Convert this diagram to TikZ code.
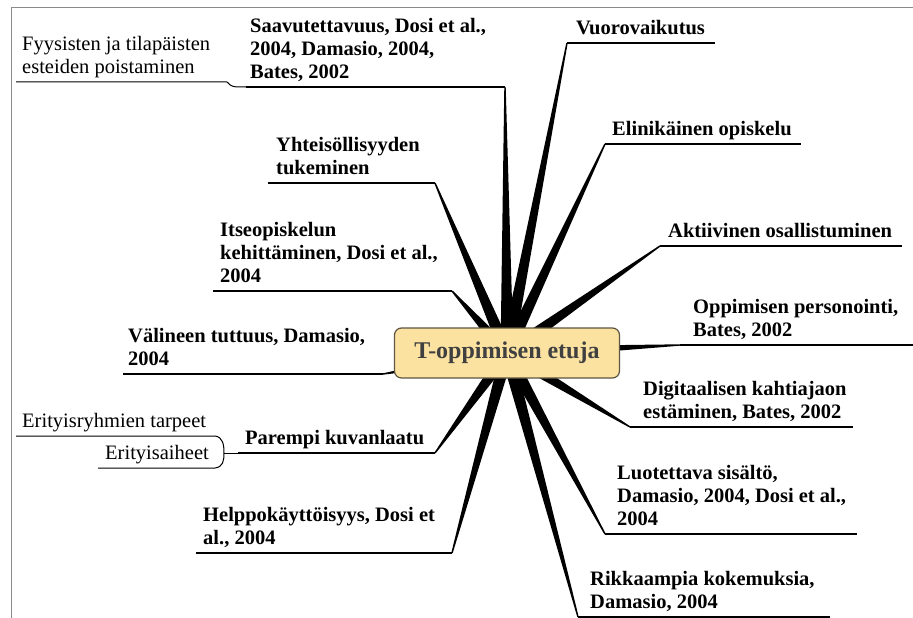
\documentclass[tikz,border=0pt]{standalone}
\usepackage{fontspec}
\setmainfont{Liberation Serif}
\usetikzlibrary{calc}

\definecolor{hubfill}{HTML}{FBE2A0}
\definecolor{hubdraw}{HTML}{5E5642}
\definecolor{hubtext}{HTML}{404040}
\definecolor{framegray}{HTML}{8A8A8A}

\tikzset{
  topic/.style={font=\fontsize{20.5}{23}\selectfont\bfseries, align=left,
    anchor=south west, inner sep=0pt, text depth=0pt},
  subtopic/.style={font=\fontsize{20.5}{23}\selectfont, align=left,
    anchor=south west, inner sep=0pt, text depth=0pt},
  underline/.style={draw=black, line width=1.3pt},
  subline/.style={draw=black, line width=1pt},
  hubbox/.style={draw=hubdraw, fill=hubfill, line width=1.2pt,
    rounded corners=7pt, minimum width=225pt, minimum height=50pt,
    text=hubtext, font=\fontsize{24}{28}\selectfont\bfseries},
  spokefill/.style={fill=black},
  frameline/.style={draw=framegray, line width=1pt},
}

\begin{document}
\begin{tikzpicture}[x=1pt,y=-1pt]
\useasboundingbox (0,0) rectangle (913,618);

% page frame (top and left edges)
\coordinate (frameTR) at (913,8);
\coordinate (frameTL) at (11,8);
\coordinate (frameBL) at (11,618);
\draw[frameline] (frameTR) -- (frameTL) -- (frameBL);

\coordinate (hub) at (507,353);

% spoke end points (inner end of each underline) and outer ends
\coordinate (saavE) at (505,87);  \coordinate (saavT) at (246,87);
\coordinate (vuorE) at (567,43);  \coordinate (vuorT) at (715,43);
\coordinate (elinE) at (605,144); \coordinate (elinT) at (801,144);
\coordinate (aktE)  at (660,246); \coordinate (aktT)  at (902,246);
\coordinate (oppE)  at (680,345); \coordinate (oppT)  at (913,345);
\coordinate (digiE) at (630,427); \coordinate (digiT) at (853,427);
\coordinate (luotE) at (605,534); \coordinate (luotT) at (857,534);
\coordinate (rikkE) at (578,617); \coordinate (rikkT) at (830,617);
\coordinate (helpE) at (452,553); \coordinate (helpT) at (196,553);
\coordinate (parE)  at (435,453); \coordinate (parT)  at (238,453);
\coordinate (valE)  at (383,374); \coordinate (valT)  at (123,374);
\coordinate (itseE) at (452,291); \coordinate (itseT) at (213,291);
\coordinate (yhtE)  at (435,183); \coordinate (yhtT)  at (268,183);

% tapered spokes from the hub (wide at the hub, narrow at the label)
\foreach \e in {saavE,vuorE,elinE,aktE,oppE,digiE,luotE,rikkE,helpE,parE,valE,itseE,yhtE}
  \fill[spokefill] ($(\e)!0.7pt!90:(hub)$) -- ($(hub)!6.5pt!-90:(\e)$)
    -- ($(hub)!6.5pt!90:(\e)$) -- ($(\e)!0.7pt!-90:(hub)$) -- cycle;

% central topic
\node[hubbox] (ctr) at (hub) {T-oppimisen etuja};

% underlines
\foreach \a/\b in {saavE/saavT,vuorE/vuorT,elinE/elinT,aktE/aktT,oppE/oppT,
  digiE/digiT,luotE/luotT,rikkE/rikkT,helpE/helpT,parE/parT,valE/valT,
  itseE/itseT,yhtE/yhtT}
  \draw[underline] (\a) -- (\b);

% branch labels
\node[topic] (saav) at (250,79) {Saavutettavuus, Dosi et al.,\\2004, Damasio, 2004,\\Bates, 2002};
\node[topic] (vuor) at (576,35) {Vuorovaikutus};
\node[topic] (elin) at (612,136) {Elinikäinen opiskelu};
\node[topic] (akt)  at (668,238) {Aktiivinen osallistuminen};
\node[topic] (opp)  at (693,337) {Oppimisen personointi,\\Bates, 2002};
\node[topic] (digi) at (643,419) {Digitaalisen kahtiajaon\\estäminen, Bates, 2002};
\node[topic] (luot) at (617,526) {Luotettava sisältö,\\Damasio, 2004, Dosi et al.,\\2004};
\node[topic] (rikk) at (590,609) {Rikkaampia kokemuksia,\\Damasio, 2004};
\node[topic] (help) at (203,545) {Helppokäyttöisyys, Dosi et\\al., 2004};
\node[topic] (par)  at (245,445) {Parempi kuvanlaatu};
\node[topic] (val)  at (128,366) {Välineen tuttuus, Damasio,\\2004};
\node[topic] (itse) at (220,283) {Itseopiskelun\\kehittäminen, Dosi et al.,\\2004};
\node[topic] (yht)  at (276,175) {Yhteisöllisyyden\\tukeminen};

% sub-branch: Saavutettavuus
\coordinate (fyysT) at (16,82);
\coordinate (fyysE) at (227,82);
\node[subtopic] (fyys) at (22,74) {Fyysisten ja tilapäisten\\esteiden poistaminen};
\draw[subline] (fyysT) -- (fyysE) .. controls (232,87) .. (saavT);

% sub-branches: Parempi kuvanlaatu
\coordinate (eritAT) at (16,436);  \coordinate (eritAE) at (215,436);
\coordinate (eritBT) at (98,468);  \coordinate (eritBE) at (215,468);
\coordinate (parJ) at (224,453);
\node[subtopic] (eritA) at (22,428) {Erityisryhmien tarpeet};
\node[subtopic] (eritB) at (105,460) {Erityisaiheet};
\draw[subline] (eritAT) -- (eritAE) .. controls (223,437) and (224,445) .. (parJ);
\draw[subline] (eritBT) -- (eritBE) .. controls (223,467) and (224,461) .. (parJ);
\draw[subline] (parJ) -- (parT);

\end{tikzpicture}
\end{document}
